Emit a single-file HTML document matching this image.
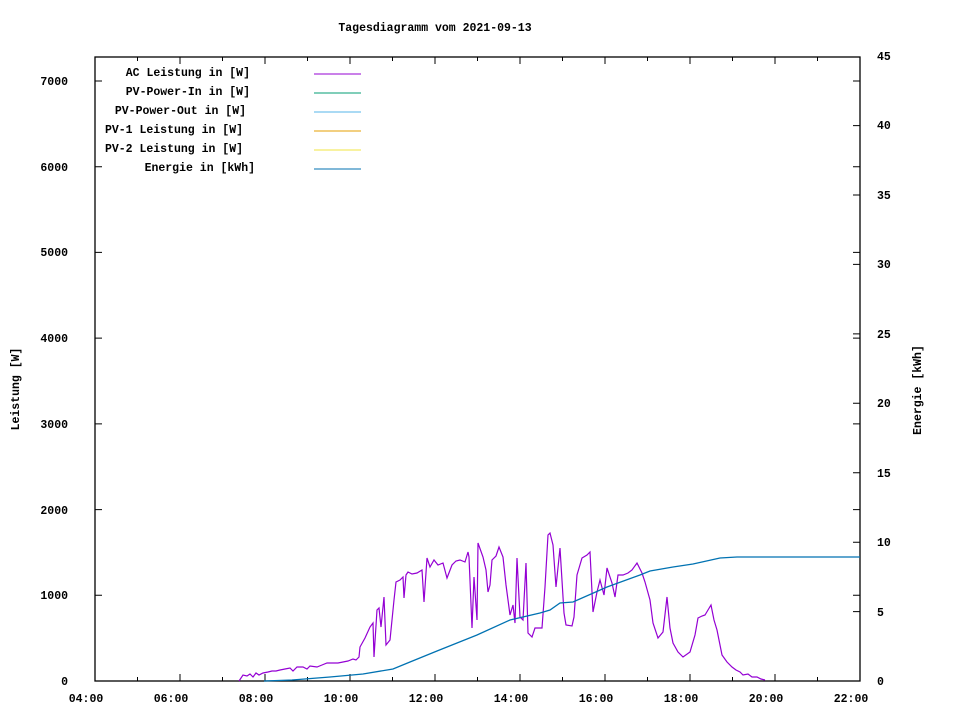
<!DOCTYPE html>
<html><head><meta charset="utf-8"><style>
html,body{margin:0;padding:0;background:#fff;}
svg text{font-family:"Liberation Mono","DejaVu Sans Mono",monospace;font-size:11.5px;font-weight:bold;fill:#000;}
</style></head><body>
<svg width="960" height="720" viewBox="0 0 960 720" xmlns="http://www.w3.org/2000/svg">
<rect width="960" height="720" fill="#fff"/>
<text x="435" y="31" text-anchor="middle">Tagesdiagramm vom 2021-09-13</text>
<!-- ticks -->
<g stroke="#000" stroke-width="1">
<path d="M95,681h7M95,595.3h7M95,509.6h7M95,423.9h7M95,338.1h7M95,252.4h7M95,166.7h7M95,81h7"/>
<path d="M860,681h-7M860,595.3h-7M860,509.6h-7M860,423.9h-7M860,338.1h-7M860,252.4h-7M860,166.7h-7M860,81h-7"/>
<path d="M860,611.6h-7M860,542.2h-7M860,472.8h-7M860,403.3h-7M860,333.9h-7M860,264.4h-7M860,195h-7M860,125.6h-7"/>
<path d="M137.5,681v-4M222.5,681v-4M307.5,681v-4M392.5,681v-4M477.5,681v-4M562.5,681v-4M647.5,681v-4M732.5,681v-4M817.5,681v-4"/>
<path d="M180,681v-7M265,681v-7M350,681v-7M435,681v-7M520,681v-7M605,681v-7M690,681v-7M775,681v-7"/>
<path d="M137.5,57v4M222.5,57v4M307.5,57v4M392.5,57v4M477.5,57v4M562.5,57v4M647.5,57v4M732.5,57v4M817.5,57v4"/>
<path d="M180,57v7M265,57v7M350,57v7M435,57v7M520,57v7M605,57v7M690,57v7M775,57v7"/>
</g>
<rect x="95" y="57" width="765" height="624" fill="none" stroke="#000" stroke-width="1.3"/>
<g text-anchor="end">
<text x="68" y="685">0</text><text x="68" y="599">1000</text><text x="68" y="514">2000</text><text x="68" y="428">3000</text><text x="68" y="342">4000</text><text x="68" y="256">5000</text><text x="68" y="171">6000</text><text x="68" y="85">7000</text>
</g>
<g>
<text x="877" y="685">0</text><text x="877" y="616">5</text><text x="877" y="546">10</text><text x="877" y="477">15</text><text x="877" y="407">20</text><text x="877" y="338">25</text><text x="877" y="268">30</text><text x="877" y="199">35</text><text x="877" y="129">40</text><text x="877" y="60">45</text>
</g>
<g text-anchor="middle">
<text x="86" y="702">04:00</text><text x="171" y="702">06:00</text><text x="256" y="702">08:00</text><text x="341" y="702">10:00</text><text x="426" y="702">12:00</text><text x="511" y="702">14:00</text><text x="596" y="702">16:00</text><text x="681" y="702">18:00</text><text x="766" y="702">20:00</text><text x="851" y="702">22:00</text>
</g>
<text transform="translate(19,389) rotate(-90)" text-anchor="middle">Leistung [W]</text>
<text transform="translate(921,390) rotate(-90)" text-anchor="middle">Energie [kWh]</text>
<!-- legend -->
<g text-anchor="end">
<text x="250" y="76">AC Leistung in [W]</text>
<text x="250" y="95">PV-Power-In in [W]</text>
<text x="246" y="114">PV-Power-Out in [W]</text>
<text x="243" y="133">PV-1 Leistung in [W]</text>
<text x="243" y="152">PV-2 Leistung in [W]</text>
<text x="255" y="171">Energie in [kWh]</text>
</g>
<g stroke-width="1">
<path d="M314,74h47" stroke="#9400d3"/>
<path d="M314,93h47" stroke="#009e73"/>
<path d="M314,112h47" stroke="#56b4e9"/>
<path d="M314,131h47" stroke="#e69f00"/>
<path d="M314,150h47" stroke="#f0e442"/>
<path d="M314,169h47" stroke="#0072b2"/>
</g>
<polyline fill="none" stroke="#9400d3" stroke-width="1.2" points="239,681 243,675 247,676 250,674 253,677 256,673 259,675 263,673 268,672 272,671 276,671 280,670 285,669 290,668 293,671 297,667 303,667 307,669 310,666 317,667 322,665 327,663 333,663 338,663 343,662 348,661 353,659 356,660 359,657 360,647 365,638 370,627 373,623 374,657 377,610 379,608 381,627 384,597 386,645 390,640 392,620 394,600 396,582 400,580 403,577 404,598 406,575 408,572 412,574 417,573 422,570 424,602 427,558 430,567 434,560 438,565 443,563 447,578 452,565 456,561 460,560 465,562 468,552 469,557 472,628 474,577 477,620 478,543 483,557 486,570 488,592 490,585 492,560 496,556 499,547 503,557 506,585 510,615 513,605 515,623 517,558 520,617 523,620 526,563 528,633 532,637 535,628 542,628 545,587 548,535 550,533 553,545 556,587 560,548 564,613 566,625 572,626 574,617 577,575 582,558 587,555 590,552 593,612 597,592 600,580 604,595 607,568 612,583 615,597 618,575 623,575 628,573 632,570 637,563 642,573 645,582 650,600 653,623 658,638 663,632 667,597 670,628 673,643 678,652 683,657 690,652 695,635 698,618 702,616 705,615 708,610 711,605 714,620 717,630 720,645 722,655 727,662 732,667 736,670 740,672 743,675 748,674 752,677 757,677 761,679 765,680"/>
<polyline fill="none" stroke="#0072b2" stroke-width="1.3" points="264,681 292,680 330,677 363,674 393,669 410,662 437,651 477,635 510,620 540,613 550,610 560,603 573,602 607,587 640,575 650,571 673,567 693,564 720,558 737,557 860,557"/>
</svg>
</body></html>
